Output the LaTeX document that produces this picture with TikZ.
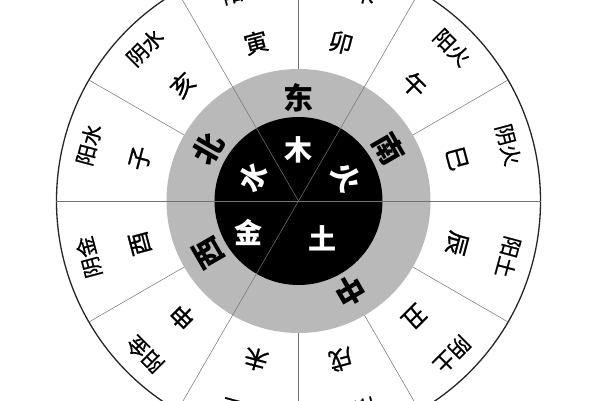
\documentclass[tikz,border=0pt]{standalone}
\usepackage{fontspec}
\newfontfamily\cjk{Noto Sans CJK SC}
\newfontfamily\cjkm{Noto Sans CJK SC}[FakeBold=0.8]
\usepackage{tikz}

\begin{document}
\begin{tikzpicture}[x=1pt,y=1pt,
    zhi/.style={font=\cjkm\fontsize{24}{24}\selectfont,inner sep=0pt},
    qi/.style={font=\cjkm\fontsize{21}{21}\selectfont,inner sep=0pt},
    fang/.style={font=\cjk\bfseries\fontsize{30}{30}\selectfont,inner sep=0pt},
    xing/.style={font=\cjk\bfseries\fontsize{28}{28}\selectfont,text=white,inner sep=0pt},
    spoke/.style={black!55,line width=0.5pt}]

  \clip (-298.5,-199) rectangle (301.5,201);
  \fill[white] (-298.5,-199) rectangle (301.5,201);

  \coordinate (O) at (0,0);
  \draw[black!85,line width=1.3pt,fill=white] (O) circle (242pt);
  \fill[gray!55] (O) circle (132pt);
  \fill[black] (O) circle (84pt);

  \foreach \a in {30,90,150,210,270,300,330}
    \draw[spoke] (\a:132pt) -- (\a:242pt);
  \foreach \a in {0,60,120,180,240}
    \draw[spoke] (O) -- (\a:242pt);

  \foreach \a/\z/\q [count=\i] in {105/寅/阳木,75/卯/阴木,45/午/阳火,15/巳/阴火,
      -15/辰/阳土,-45/丑/阴土,-75/戌/阳土,-105/未/阴土,
      -135/申/阳金,-165/酉/阴金,165/子/阳水,135/亥/阴水}
  {
    \node[zhi,rotate=\a-90] (zhi\i) at (\a:164pt) {\z};
    \node[qi,rotate=\a-90]  (qi\i)  at (\a:217pt) {\q};
  }

  \node[fang]            (east)   at (90:103pt)  {东};
  \node[fang,rotate=-60] (south)  at (30:104pt)  {南};
  \node[fang,rotate=60]  (north)  at (150:104pt) {北};
  \node[fang,rotate=120] (west)   at (210:104pt) {西};
  \node[fang,rotate=210] (centre) at (300:104pt) {中};

  \node[xing]            (mu)   at (90:51pt)  {木};
  \node[xing,rotate=-60] (huo)  at (26:54pt)  {火};
  \node[xing,rotate=60]  (shui) at (152:51pt) {水};
  \node[xing]            (jin)  at (212:59pt) {金};
  \node[xing]            (tu)   at (303:44pt) {土};
\end{tikzpicture}
\end{document}
